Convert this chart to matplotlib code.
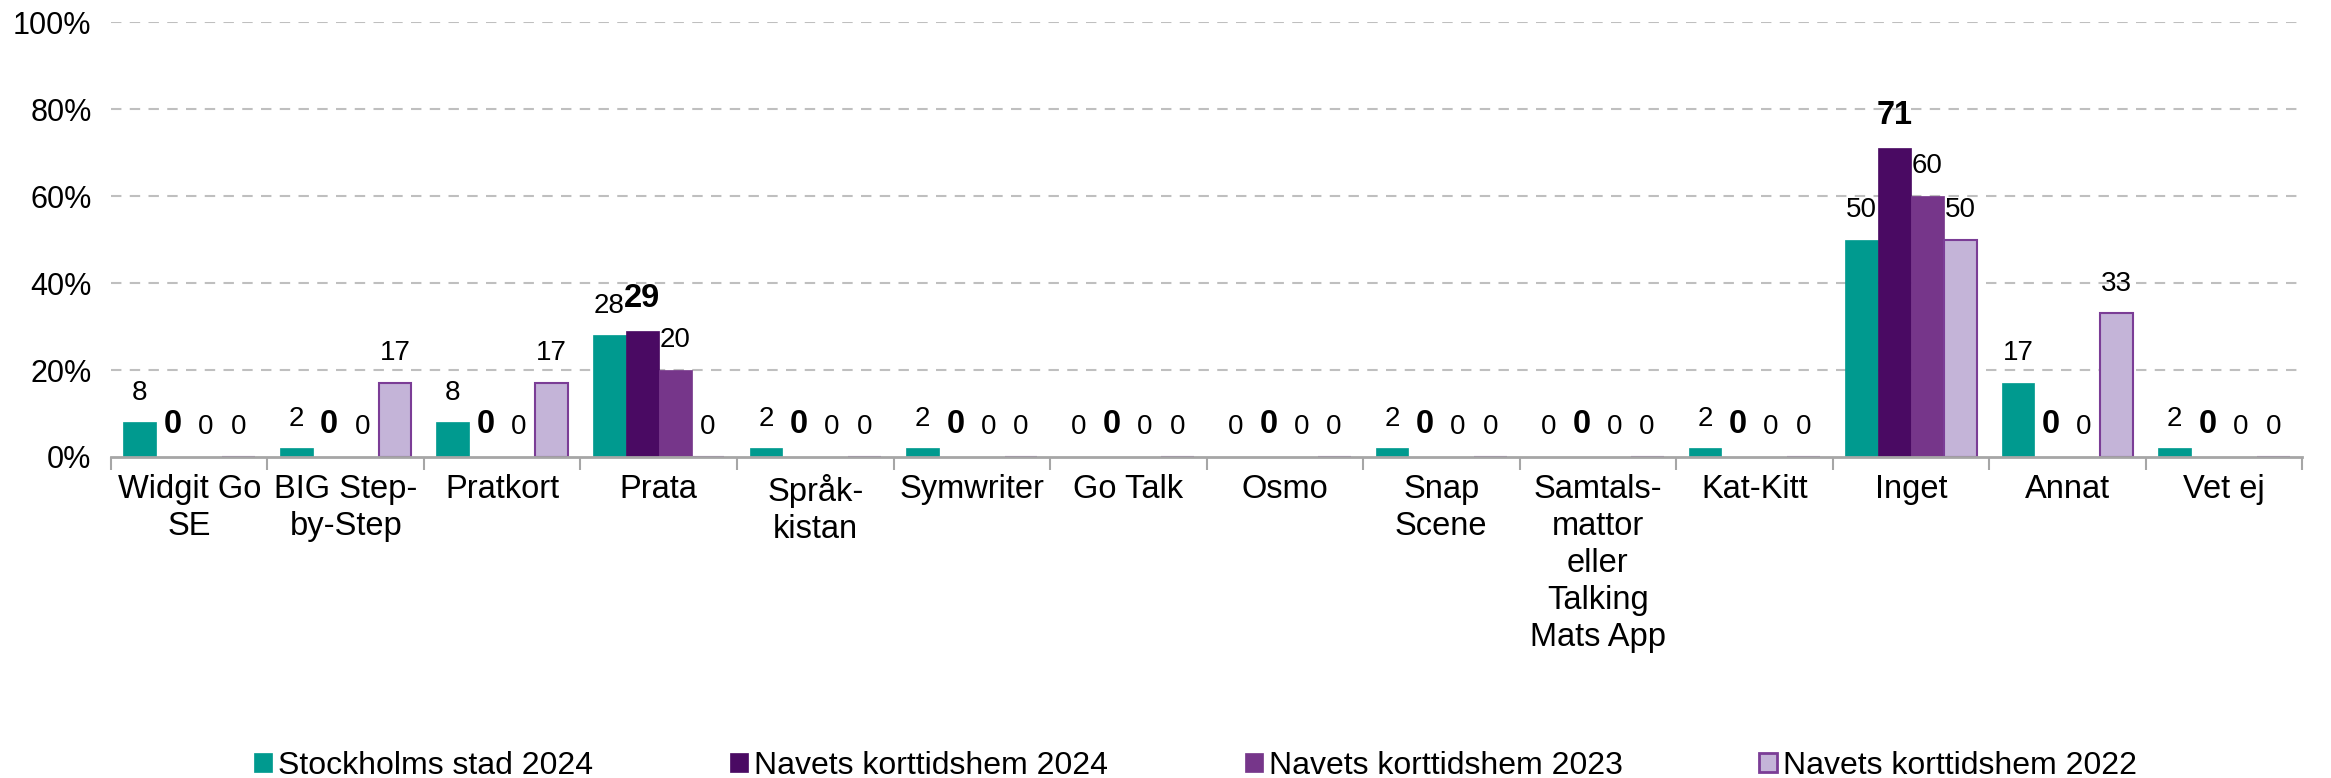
import matplotlib
matplotlib.use("Agg")
import matplotlib.pyplot as plt
import numpy as np
from matplotlib.ticker import FixedLocator, PercentFormatter
from matplotlib.patches import Patch

plt.rcParams['font.family'] = ['Liberation Sans', 'DejaVu Sans']

categories = ["Widgit Go\nSE", "BIG Step-\nby-Step", "Pratkort", "Prata", "Språk-\nkistan",
              "Symwriter", "Go Talk", "Osmo", "Snap\nScene",
              "Samtals-\nmattor\neller\nTalking\nMats App", "Kat-Kitt", "Inget", "Annat", "Vet ej"]
series_names = ["Stockholms stad 2024", "Navets korttidshem 2024",
                "Navets korttidshem 2023", "Navets korttidshem 2022"]
stockholm_2024 = [8, 2, 8, 28, 2, 2, 0, 0, 2, 0, 2, 50, 17, 2]
navet_2024 = [0, 0, 0, 29, 0, 0, 0, 0, 0, 0, 0, 71, 0, 0]
navet_2023 = [0, 0, 0, 20, 0, 0, 0, 0, 0, 0, 0, 60, 0, 0]
navet_2022 = [0, 17, 17, 0, 0, 0, 0, 0, 0, 0, 0, 50, 33, 0]
yticks = [0, 20, 40, 60, 80, 100]

series = [stockholm_2024, navet_2024, navet_2023, navet_2022]
colors = ["#009A8F", "#4A0A63", "#76368A", "#C4B4D8"]
edges = ["#009A8F", "#4A0A63", "#76368A", "#7B3D96"]
bold = [False, True, False, False]

fig = plt.figure(figsize=(23.31, 7.78), dpi=100)
ax = fig.add_axes([0.0476, 0.4126, 0.94, 0.5591])

n = len(categories)
x = np.arange(n)
bw = 0.21
handles = []
for i, (vals, c, ec, b) in enumerate(zip(series, colors, edges, bold)):
    pos = x + (i - 1.5) * bw
    lw = 1.5 if i == 3 else 0.5
    ax.bar(pos, vals, width=bw, color=c, edgecolor=ec, linewidth=lw, zorder=3)
    handles.append(Patch(facecolor=c, edgecolor=ec, linewidth=2 if i == 3 else 0.5,
                         label=series_names[i]))
    for xp, v in zip(pos, vals):
        ax.annotate(f"{v}", (xp, v), xytext=(0, 12), textcoords="offset points",
                    ha="center", va="bottom",
                    fontsize=23.5 if b else 20,
                    fontweight="bold" if b else "normal", zorder=4)

ax.set_xlim(-0.5, n - 0.5)
ax.set_ylim(0, 100)
ax.yaxis.set_major_locator(FixedLocator(yticks))
ax.yaxis.set_major_formatter(PercentFormatter(decimals=0))
ax.tick_params(axis='y', length=0, pad=14, labelsize=22)
for yv in yticks[1:]:
    ax.axhline(yv, color="#BFBFBF", linewidth=1.5, linestyle=(0, (5, 4)), zorder=1)

ax.set_xticks(x)
ax.set_xticklabels(categories, fontsize=23.5, linespacing=1.25)
ax.tick_params(axis='x', which='major', length=0, pad=12)
ax.set_xticks(np.arange(-0.5, n, 1.0), minor=True)
ax.tick_params(axis='x', which='minor', length=9, width=1.5, color="#A6A6A6")

for s in ["top", "right", "left"]:
    ax.spines[s].set_visible(False)
ax.spines["bottom"].set_color("#A6A6A6")
ax.spines["bottom"].set_linewidth(2)
ax.spines["bottom"].set_zorder(5)

legend_x = [0.1090, 0.3132, 0.5341, 0.7546]
for h, lx in zip(handles, legend_x):
    fig.legend(handles=[h], loc="center left", bbox_to_anchor=(lx, 0.016), frameon=False,
               fontsize=23, handlelength=0.55, handleheight=0.55, handletextpad=0.2,
               borderpad=0, borderaxespad=0)

fig.savefig("out.png", dpi=100)
